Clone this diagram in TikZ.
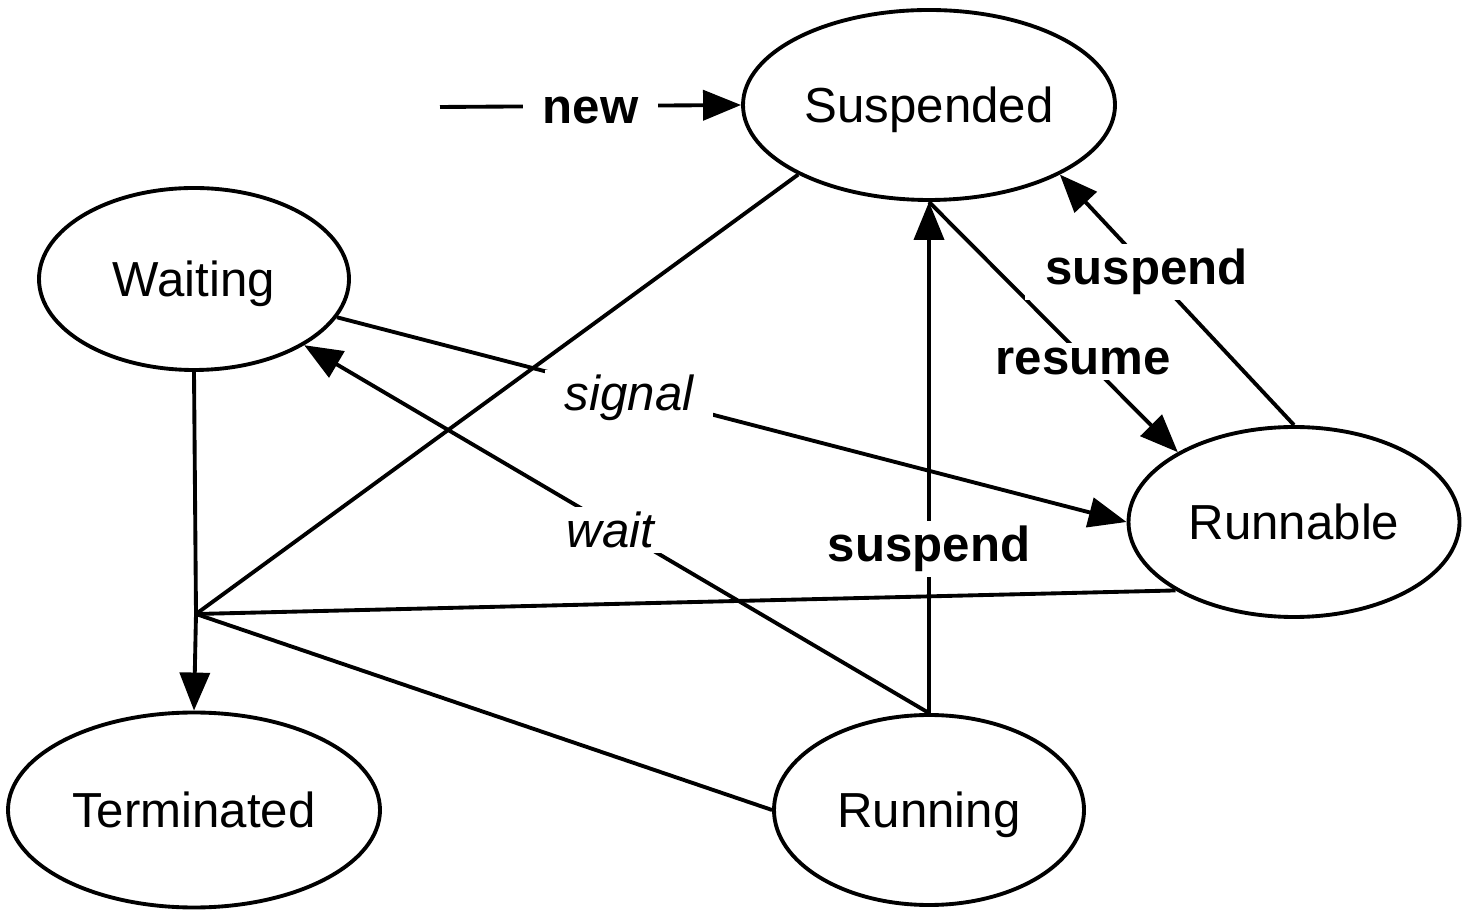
\documentclass[tikz,border=0pt]{standalone}
\usepackage{fontspec}
\setmainfont{Liberation Sans}
\usetikzlibrary{shapes.geometric,arrows.meta}
\newcommand{\diagsize}{\fontsize{14}{17}\selectfont}
\tikzset{
  state/.style={draw,ellipse,minimum height=1.9cm,inner sep=0pt,text depth=0pt,font=\diagsize},
  lbl/.style={fill=white,inner xsep=0.2cm,inner ysep=0.05cm,yshift=-0.045cm},
  bold/.style={lbl,font=\diagsize\bfseries},
  ital/.style={lbl,font=\diagsize\itshape}
}
\begin{document}
\begin{tikzpicture}[line width=1.1pt,
  >={Triangle[length=3.8mm,width=3mm]}]
\useasboundingbox (0,0) rectangle (14.7,-9.16);
%\draw[help lines] (0,0) grid (14.7,-9.16);
\node[state,minimum width=3.72cm] (sus) at (9.29,-1.05) {Suspended};
\node[state,minimum width=3.1cm,minimum height=1.82cm] (wai) at (1.94,-2.79) {Waiting};
\node[state,minimum width=3.31cm] (run) at (12.94,-5.22) {Runnable};
\node[state,minimum width=3.72cm,minimum height=1.95cm] (ter) at (1.94,-8.10) {Terminated};
\node[state,minimum width=3.1cm] (rng) at (9.29,-8.10) {Running};
\coordinate (start) at (4.40,-1.07);
\coordinate (jn) at (1.96,-6.14);
% lines into the junction
\draw (sus.-152) -- (jn);
\draw (run.-150) -- (jn);
\draw (rng.west) -- (jn);
\draw[->] (wai.south) -- (jn) -- (ter.north);
% labelled transitions
\draw[->] (start) -- node[bold]{new} (sus.west);
\draw[->] (wai.-15.5) -- node[ital,pos=0.37]{signal} (run.west);
\draw[->] (rng.north) -- node[ital,pos=0.51]{wait} (wai.-31);
\draw[->] (rng.north) -- node[bold,pos=0.33]{suspend} (sus.south);
\draw[->] (sus.south) -- node[bold,pos=0.62]{resume} (run.149);
\draw[->] (run.north) -- node[bold,pos=0.63]{suspend} (sus.-28);
\end{tikzpicture}
\end{document}
